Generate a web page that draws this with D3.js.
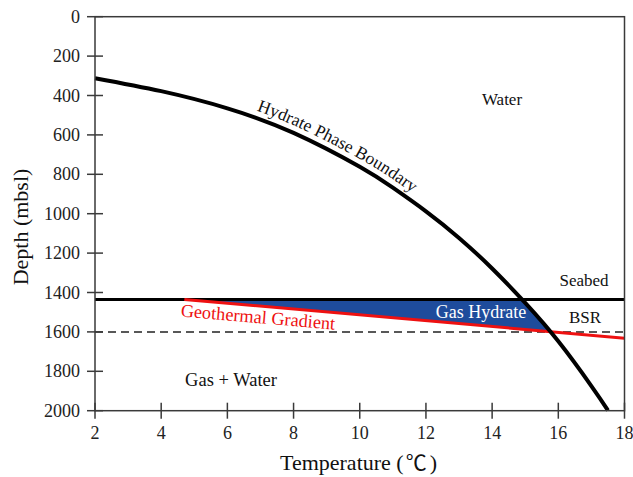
<!DOCTYPE html>
<html><head><meta charset="utf-8">
<script src="https://cdn.jsdelivr.net/npm/d3@7"></script>
<style>body{margin:0;background:#fff}svg{display:block}</style>
</head><body><svg id="c" width="633" height="477"></svg>
<script>
const tempTicks = [2,4,6,8,10,12,14,16,18];
const depthTicks = [0,200,400,600,800,1000,1200,1400,1600,1800,2000];
const phaseT     = [2, 4, 6, 8, 10, 11, 12, 13, 14, 15, 16, 17, 17.5];
const phaseDepth = [312, 378, 465, 590, 762, 868, 988, 1123, 1278, 1453, 1648, 1875, 1998];
const seabedDepth = 1435;
const bsrDepth = 1600;
const gradT = [4.7, 18];
const gradDepth = [1435, 1632];

const FONT = "Liberation Serif";
const svg = d3.select('#c');
const x = d3.scaleLinear().domain([2,18]).range([95,624.5]);
const y = d3.scaleLinear().domain([0,2000]).range([16.7,410.7]);
const axisCol = '#3a3a3a';

const gBlue = svg.append('g');

svg.append('line').attr('x1',x(2)).attr('x2',x(18)).attr('y1',y(bsrDepth)).attr('y2',y(bsrDepth))
  .attr('stroke','#222').attr('stroke-width',1.5).attr('stroke-dasharray','8,5');

svg.append('line').attr('x1',x(2)).attr('x2',x(18)).attr('y1',y(seabedDepth)).attr('y2',y(seabedDepth))
  .attr('stroke','#000').attr('stroke-width',3);

const gradPts = gradT.map((t,i)=>[t,gradDepth[i]]);
svg.append('path').attr('d', d3.line().x(d=>x(d[0])).y(d=>y(d[1]))(gradPts))
  .attr('stroke','#ee1111').attr('stroke-width',3).attr('fill','none');

const phasePts = phaseT.map((t,i)=>[t,phaseDepth[i]]);
const phasePath = svg.append('path').attr('id','phase')
  .attr('d', d3.line().curve(d3.curveNatural).x(d=>x(d[0])).y(d=>y(d[1]))(phasePts))
  .attr('stroke','#000').attr('stroke-width',4).attr('fill','none');

const node = phasePath.node();
const L = node.getTotalLength();
const sy = y(seabedDepth);
const gx0 = x(gradT[0]), gy0 = y(gradDepth[0]), gx1 = x(gradT[1]), gy1 = y(gradDepth[1]);
const redY = px => gy0 + (px-gx0)*(gy1-gy0)/(gx1-gx0);
const poly = [[gx0, gy0]];
let started = false;
for (let l=0; l<=L; l+=0.5) {
  const p = node.getPointAtLength(l);
  if (p.y >= sy && p.y <= redY(p.x)) {
    if (!started) { poly.push([p.x, sy]); started = true; }
    poly.push([p.x, p.y]);
  } else if (started && p.y > redY(p.x)) { poly.push([p.x, redY(p.x)]); break; }
}
gBlue.append('path').attr('d', d3.line()(poly)+'Z').attr('fill','#1e4c9c');

svg.append('rect').attr('x',x(2)).attr('y',y(0)).attr('width',x(18)-x(2)).attr('height',y(2000)-y(0))
  .attr('fill','none').attr('stroke',axisCol).attr('stroke-width',1.5);

const yAxis = svg.append('g');
depthTicks.forEach(d=>{
  yAxis.append('line').attr('x1',x(2)-8).attr('x2',x(2)+8).attr('y1',y(d)).attr('y2',y(d)).attr('stroke',axisCol).attr('stroke-width',1.5);
  yAxis.append('text').style('font-family',FONT).attr('x',80).attr('y',y(d)+6).attr('text-anchor','end').attr('font-size',18).attr('fill','#222').text(d);
});
const xAxis = svg.append('g');
tempTicks.forEach(t=>{
  xAxis.append('line').attr('x1',x(t)).attr('x2',x(t)).attr('y1',y(2000)-8).attr('y2',y(2000)+8).attr('stroke',axisCol).attr('stroke-width',1.5);
  xAxis.append('text').style('font-family',FONT).attr('x',x(t)).attr('y',439).attr('text-anchor','middle').attr('font-size',18).attr('fill','#222').text(t);
});

svg.append('text').style('font-family',FONT).attr('transform','translate(28,227) rotate(-90)').attr('text-anchor','middle')
  .attr('font-size',22).attr('fill','#111').text('Depth (mbsl)');
const tt = svg.append('text').style('font-family',FONT).attr('x',280).attr('y',470)
  .attr('font-size',22).attr('fill','#111');
tt.append('tspan').text('Temperature (');
tt.append('tspan').style('font-family','Noto Sans CJK SC').attr('font-size',21).attr('dx',2).text('℃');
tt.append('tspan').attr('dx',3).text(')');

const lab = (tx,ty,s,opts={}) => svg.append('text').style('font-family',FONT).attr('x',tx).attr('y',ty).attr('text-anchor','middle')
  .attr('font-size',opts.size||17).attr('fill',opts.fill||'#111').text(s);
lab(502,105,'Water');
lab(584,286,'Seabed');
lab(585,323,'BSR');
lab(481,318,'Gas Hydrate',{fill:'#fff',size:18});
lab(231,386,'Gas + Water',{size:18.5});
svg.append('text').style('font-family',FONT).attr('transform','translate(257.5,323) rotate(4.9)').attr('text-anchor','middle')
  .attr('font-size',18.3).attr('fill','#ee1111').text('Geothermal Gradient');

let off = 0;
for (let l=0; l<=L; l+=0.5) { if (node.getPointAtLength(l).x >= 254) { off = l; break; } }
svg.append('text').style('font-family',FONT).attr('font-size',17.5).attr('fill','#111').attr('dy',-7)
  .append('textPath').attr('href','#phase').attr('startOffset',off).text('Hydrate Phase Boundary');
</script></body></html>
